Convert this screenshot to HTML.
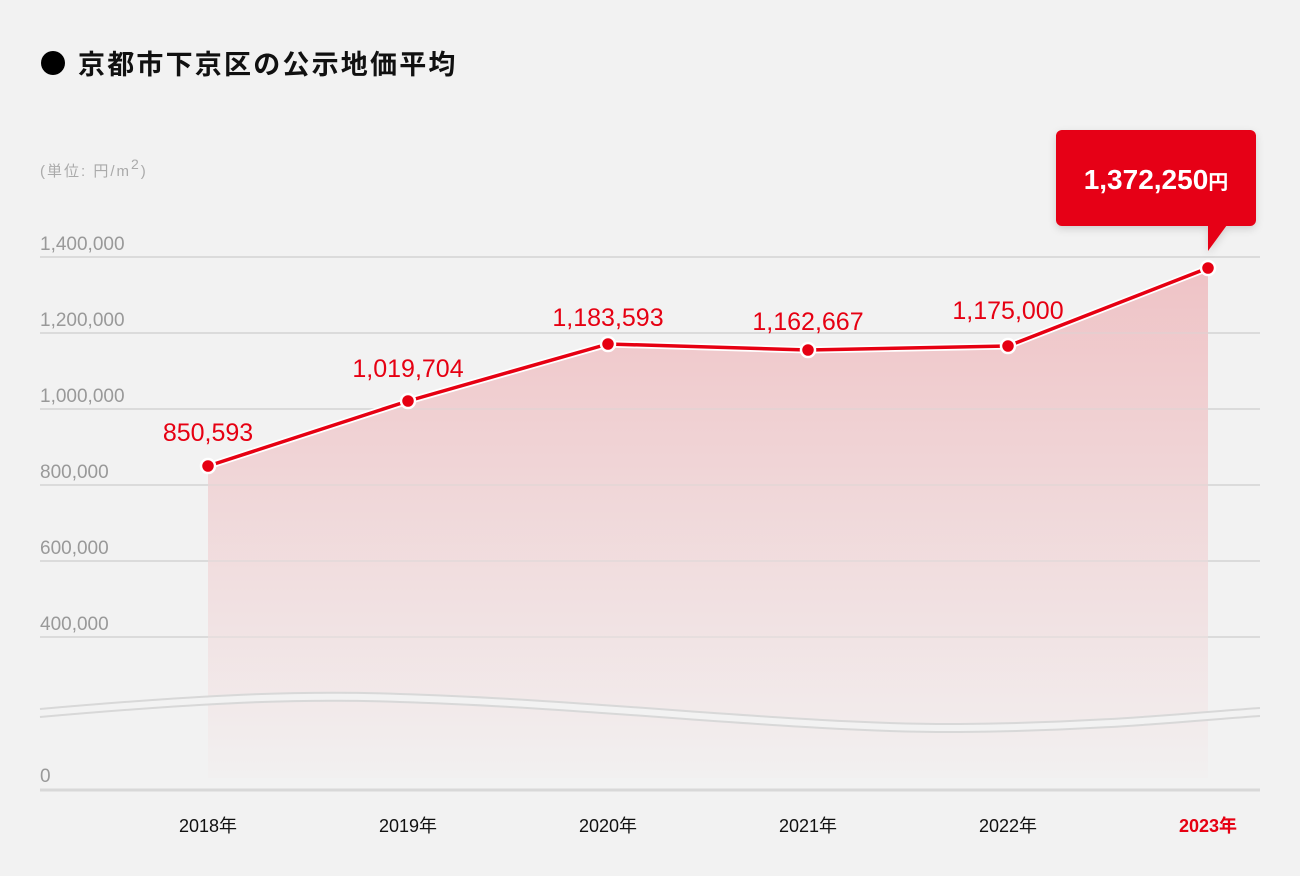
<!DOCTYPE html>
<html><head><meta charset="utf-8"><style>
body{margin:0;background:#f2f2f2;width:1300px;height:876px;overflow:hidden;font-family:"Liberation Sans","Noto Sans CJK JP",sans-serif}
</style></head><body>
<svg width="1300" height="876" xmlns="http://www.w3.org/2000/svg" style="position:absolute;left:0;top:0">
<defs>
<linearGradient id="g" x1="0" y1="0" x2="0" y2="1">
<stop offset="0" stop-color="#efc3c6"/><stop offset="1" stop-color="#f2f0f0"/>
</linearGradient>
<filter id="sh" x="-20%" y="-20%" width="140%" height="150%"><feDropShadow dx="0" dy="3" stdDeviation="4" flood-color="#000" flood-opacity="0.15"/></filter>
</defs>
<rect width="1300" height="876" fill="#f2f2f2"/>
<circle cx="53" cy="63" r="12" fill="#000"/>
<text x="78" y="74" font-size="27" font-weight="bold" fill="#111" letter-spacing="2.2">京都市下京区の公示地価平均</text>
<text x="40" y="176" font-size="15" fill="#aaa" letter-spacing="2">(単位: 円/m<tspan dy="-7" font-size="14">2</tspan><tspan dy="7">)</tspan></text>
<g stroke="#d6d6d6" stroke-width="1.5">
<line x1="40" y1="257" x2="1260" y2="257"/><line x1="40" y1="333" x2="1260" y2="333"/>
<line x1="40" y1="409" x2="1260" y2="409"/><line x1="40" y1="485" x2="1260" y2="485"/>
<line x1="40" y1="561" x2="1260" y2="561"/><line x1="40" y1="637" x2="1260" y2="637"/>
</g>
<path d="M208,466 L408,401 L608,344 L808,350 L1008,346 L1208,268 L1208,778 L208,778Z" fill="url(#g)"/>
<g stroke="#d6d6d6" stroke-width="1.5">
<line x1="40" y1="257" x2="1260" y2="257" opacity="0.5"/><line x1="40" y1="333" x2="1260" y2="333" opacity="0.5"/>
<line x1="40" y1="409" x2="1260" y2="409" opacity="0.5"/><line x1="40" y1="485" x2="1260" y2="485" opacity="0.5"/>
<line x1="40" y1="561" x2="1260" y2="561" opacity="0.5"/><line x1="40" y1="637" x2="1260" y2="637" opacity="0.5"/>
</g>
<path d="M40,709 C200,695 300,690 400,694 C600,700 800,725 960,724 C1100,723 1200,712 1260,708 L1260,716 C1200,720 1100,731 960,732 C800,733 600,708 400,702 C300,698 200,703 40,717Z" fill="#f2f2f2"/>
<path d="M40,709 C200,695 300,690 400,694 C600,700 800,725 960,724 C1100,723 1200,712 1260,708" fill="none" stroke="#d8d8d8" stroke-width="2"/>
<path d="M40,717 C200,703 300,698 400,702 C600,708 800,733 960,732 C1100,731 1200,720 1260,716" fill="none" stroke="#d8d8d8" stroke-width="2"/>
<line x1="40" y1="790" x2="1260" y2="790" stroke="#d8d8d8" stroke-width="3"/>
<g font-size="19" fill="#999">
<text x="40" y="250">1,400,000</text><text x="40" y="326">1,200,000</text>
<text x="40" y="402">1,000,000</text><text x="40" y="478">800,000</text>
<text x="40" y="554">600,000</text><text x="40" y="630">400,000</text>
<text x="40" y="782">0</text>
</g>
<polyline points="208,466 408,401 608,344 808,350 1008,346 1208,268" fill="none" stroke="#fff" stroke-width="7" stroke-linejoin="round"/>
<polyline points="208,466 408,401 608,344 808,350 1008,346 1208,268" fill="none" stroke="#e60012" stroke-width="3.5" stroke-linejoin="round"/>
<g fill="#e60012" stroke="#fff" stroke-width="2.5">
<circle cx="208" cy="466" r="7"/><circle cx="408" cy="401" r="7"/><circle cx="608" cy="344" r="7"/>
<circle cx="808" cy="350" r="7"/><circle cx="1008" cy="346" r="7"/><circle cx="1208" cy="268" r="7"/>
</g>
<g font-size="25" fill="#e60012" text-anchor="middle">
<text x="208" y="441">850,593</text><text x="408" y="377">1,019,704</text>
<text x="608" y="326">1,183,593</text><text x="808" y="330">1,162,667</text>
<text x="1008" y="319">1,175,000</text>
</g>
<g filter="url(#sh)">
<rect x="1056" y="130" width="200" height="96" rx="6" fill="#e60012"/>
<path d="M1208,225 L1227,225 L1208,251Z" fill="#e60012"/>
</g>
<text x="1156" y="189" font-size="28" font-weight="bold" fill="#fff" text-anchor="middle">1,372,250<tspan font-size="20">円</tspan></text>
<g font-size="18" fill="#111" text-anchor="middle">
<text x="208" y="832">2018年</text><text x="408" y="832">2019年</text><text x="608" y="832">2020年</text>
<text x="808" y="832">2021年</text><text x="1008" y="832">2022年</text>
<text x="1208" y="832" fill="#e60012" font-weight="bold">2023年</text>
</g>
</svg>
</body></html>
